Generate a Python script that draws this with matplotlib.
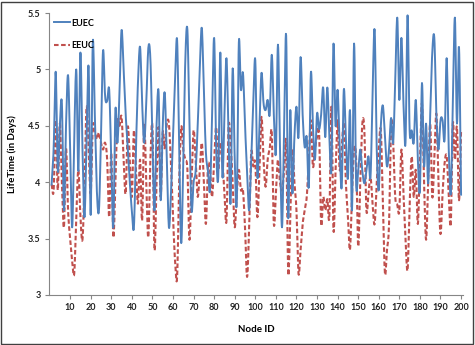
import numpy as np
import matplotlib
matplotlib.use("Agg")
import matplotlib.pyplot as plt
from matplotlib.patches import Rectangle

# ---- data ----
node_ids = list(range(1, 201))

euec = [3.98, 4.30, 4.98, 4.10, 4.50, 4.70, 3.75, 4.50, 4.95, 4.30,
        3.60, 4.40, 5.00, 4.10, 5.15, 4.30, 3.69, 4.40, 5.02, 3.71,
        5.24, 4.60, 3.92, 3.75, 4.40, 5.17, 4.76, 4.72, 4.82, 4.20,
        3.60, 4.64, 4.35, 4.80, 5.35, 5.00, 4.60, 4.31, 4.00, 3.75,
        3.60, 4.30, 4.90, 5.20, 4.70, 4.35, 4.70, 5.19, 5.10, 4.40,
        3.75, 4.50, 4.80, 3.84, 4.50, 4.79, 4.20, 3.60, 3.90, 4.40,
        4.90, 5.26, 4.30, 3.46, 4.20, 5.10, 5.35, 4.50, 3.75, 4.00,
        4.10, 4.50, 5.00, 5.37, 4.80, 4.26, 4.10, 3.93, 4.60, 5.28,
        4.30, 4.05, 5.15, 4.05, 4.60, 5.10, 4.40, 3.82, 5.01, 4.20,
        3.82, 5.24, 4.82, 4.97, 4.50, 4.10, 3.75, 4.20, 4.70, 5.08,
        4.05, 4.50, 4.97, 4.70, 4.64, 4.73, 4.60, 5.13, 4.60, 4.26,
        5.22, 4.30, 3.60, 4.50, 5.30, 3.68, 4.64, 3.90, 4.40, 4.67,
        4.40, 5.11, 4.60, 4.31, 4.40, 3.96, 4.97, 4.50, 4.20, 4.61,
        4.47, 4.60, 4.84, 4.40, 4.84, 4.40, 4.11, 5.23, 4.50, 4.82,
        4.30, 3.96, 4.82, 4.40, 4.03, 4.64, 3.75, 5.23, 3.99, 4.10,
        4.29, 4.10, 3.99, 4.10, 4.23, 4.05, 4.80, 5.35, 4.30, 3.93,
        4.50, 4.68, 4.40, 4.14, 4.30, 4.57, 4.35, 4.90, 5.46, 4.73,
        5.28, 4.70, 4.35, 5.48, 4.46, 4.46, 4.35, 4.73, 4.20, 3.93,
        4.88, 4.14, 4.52, 3.99, 4.60, 5.15, 5.28, 4.60, 4.29, 4.55,
        4.55, 4.38, 5.10, 4.30, 3.90, 4.70, 5.46, 4.52, 5.20, 3.89]

eeuc = [3.98, 3.93, 4.55, 3.93, 4.52, 4.00, 3.60, 4.30, 3.75, 3.50,
        3.30, 3.19, 3.70, 4.11, 3.70, 3.49, 4.00, 4.67, 4.30, 3.90,
        4.49, 4.45, 4.38, 4.44, 4.35, 4.29, 4.35, 4.20, 3.69, 4.26,
        3.51, 4.00, 4.55, 4.50, 4.58, 4.20, 3.90, 4.49, 4.20, 3.87,
        4.46, 4.10, 3.81, 4.20, 3.66, 4.52, 4.00, 3.51, 4.20, 4.49,
        3.40, 4.00, 4.49, 3.87, 4.44, 4.30, 4.52, 4.52, 4.17, 3.70,
        3.30, 3.16, 4.00, 4.49, 4.29, 4.20, 4.11, 3.49, 4.00, 4.46,
        4.20, 3.87, 4.10, 4.35, 4.00, 3.63, 4.14, 4.10, 3.87, 4.20,
        4.49, 4.11, 4.35, 4.20, 3.90, 3.66, 4.49, 4.35, 4.00, 3.60,
        3.90, 4.11, 3.93, 3.93, 3.60, 3.16, 3.60, 4.26, 4.14, 4.17,
        3.69, 4.10, 4.58, 4.20, 3.96, 4.20, 4.30, 4.44, 3.63, 3.90,
        4.20, 4.00, 3.93, 4.10, 4.35, 3.19, 3.70, 4.29, 4.00, 3.75,
        3.19, 3.40, 3.63, 3.75, 3.87, 4.20, 4.55, 4.14, 4.30, 4.40,
        4.44, 3.63, 3.87, 3.75, 3.85, 3.70, 4.67, 3.57, 4.10, 4.55,
        4.11, 4.30, 4.52, 4.00, 3.70, 3.40, 3.90, 4.29, 4.20, 3.43,
        4.00, 4.52, 4.46, 3.75, 3.90, 4.05, 3.80, 3.63, 4.00, 4.30,
        4.46, 3.80, 3.19, 3.40, 3.63, 4.52, 4.35, 3.87, 3.80, 3.75,
        4.29, 3.90, 3.50, 3.22, 3.80, 4.23, 3.87, 4.11, 3.63, 4.20,
        4.70, 4.00, 3.49, 4.00, 4.52, 3.87, 4.20, 4.61, 4.00, 3.54,
        3.90, 4.17, 4.23, 3.90, 3.63, 4.52, 4.20, 4.49, 3.84, 4.46]

series_names = ["EUEC", "EEUC"]
x_ticks = list(range(10, 201, 10))
y_ticks = [3, 3.5, 4, 4.5, 5, 5.5]
y_tick_labels = ["3", "3.5", "4", "4.5", "5", "5.5"]


def smooth(x, y, k=8):
    """Catmull-Rom rendering of a line (like Excel's smoothed lines)."""
    x = np.asarray(x, float)
    y = np.asarray(y, float)
    px = np.concatenate([[2 * x[0] - x[1]], x, [2 * x[-1] - x[-2]]])
    py = np.concatenate([[2 * y[0] - y[1]], y, [2 * y[-1] - y[-2]]])
    t = np.linspace(0, 1, k, endpoint=False)
    xs, ys = [], []
    for i in range(1, len(px) - 2):
        for arr, out in ((px, xs), (py, ys)):
            p0, p1, p2, p3 = arr[i - 1], arr[i], arr[i + 1], arr[i + 2]
            out.extend(0.5 * ((2 * p1) + (-p0 + p2) * t
                              + (2 * p0 - 5 * p1 + 4 * p2 - p3) * t ** 2
                              + (-p0 + 3 * p1 - 3 * p2 + p3) * t ** 3))
    xs.append(x[-1])
    ys.append(y[-1])
    return np.array(xs), np.array(ys)


plt.rcParams['font.family'] = ['Lato', 'DejaVu Sans']
plt.rcParams['font.weight'] = 'bold'

fig = plt.figure(figsize=(4.75, 3.45), dpi=100)
fig.patch.set_facecolor('white')
fig.patches.append(Rectangle((0.003, 0.004), 0.993, 0.991, transform=fig.transFigure,
                             fill=False, edgecolor='#404040', linewidth=1.0))

ax = fig.add_axes([0.103, 0.145, 0.872, 0.817])

bx, by = smooth(node_ids, euec)
rx, ry = smooth(node_ids, eeuc)
ax.plot(bx, by, color='#4F81BD', linewidth=1.4, label=series_names[0], zorder=3)
ax.plot(rx, ry, color='#C0504D', linewidth=1.5, linestyle=(0, (2.2, 1.2)),
        label=series_names[1], zorder=2)

ax.set_xlim(-0.3, 201)
ax.set_ylim(3, 5.5)
ax.set_xticks(x_ticks)
ax.set_xticklabels([str(v) for v in x_ticks], fontsize=6.5, fontweight='bold')
ax.set_yticks(y_ticks)
ax.set_yticklabels(y_tick_labels, fontsize=6.5, fontweight='bold')
for s in ('top', 'right'):
    ax.spines[s].set_visible(False)
for s in ('left', 'bottom'):
    ax.spines[s].set_color('#868686')
    ax.spines[s].set_linewidth(0.8)
ax.tick_params(axis='both', direction='out', length=3, width=0.8, color='#868686',
               labelcolor='#222222', pad=3)

ax.set_xlabel("Node ID", fontsize=7, fontweight='bold', labelpad=9)
ax.set_ylabel("LifeTime (in Days)", fontsize=7, fontweight='bold', labelpad=8)

leg = ax.legend(loc='upper left', frameon=False, fontsize=6.5, handlelength=1.7,
                labelspacing=1.5, borderaxespad=0.2, handletextpad=0.2,
                bbox_to_anchor=(0.0, 1.0))
for t in leg.get_texts():
    t.set_fontweight('bold')

fig.savefig("out.png", dpi=100, facecolor='white')
